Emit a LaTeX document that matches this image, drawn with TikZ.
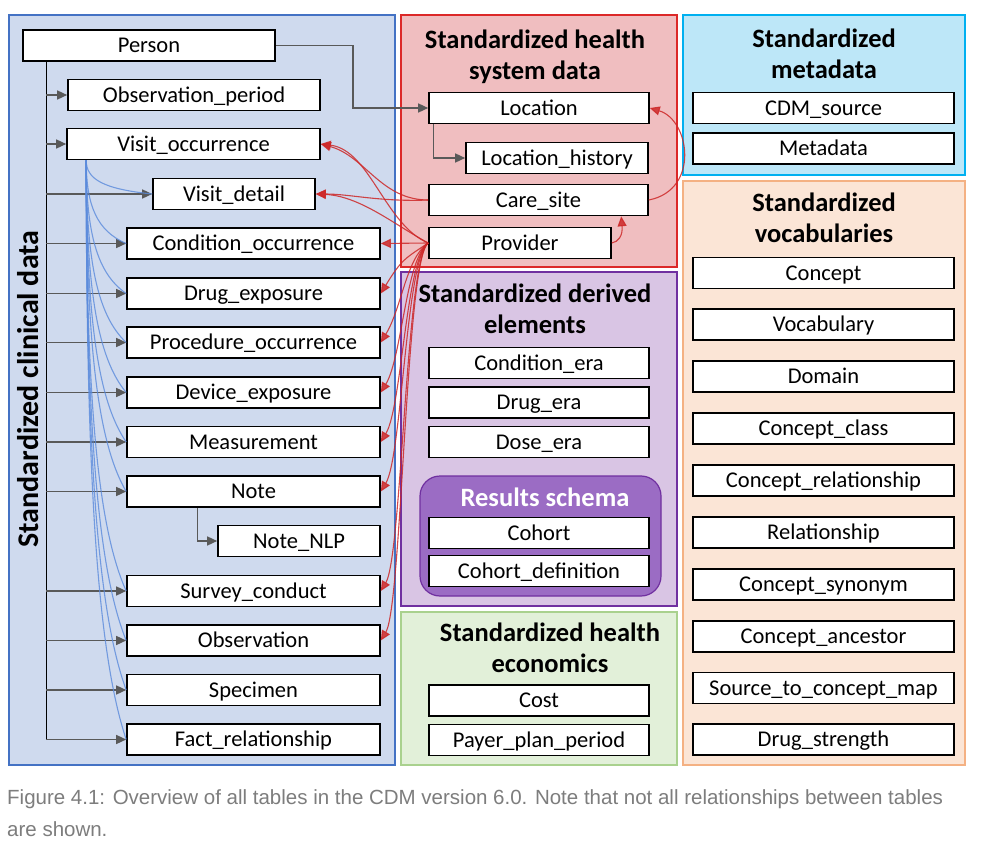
\documentclass[tikz,border=0pt]{standalone}
\usepackage{fontspec}
\setmainfont{Carlito}
\newfontfamily\capfont{Liberation Sans}
\usetikzlibrary{arrows.meta,calc}
\definecolor{bluefill}{RGB}{207,218,238}
\definecolor{blueline}{RGB}{68,114,196}
\definecolor{redfill}{RGB}{240,190,192}
\definecolor{redline}{RGB}{220,40,40}
\definecolor{purplefill}{RGB}{217,197,228}
\definecolor{purpleline}{RGB}{112,48,160}
\definecolor{resfill}{RGB}{155,108,196}
\definecolor{greenfill}{RGB}{226,240,217}
\definecolor{greenline}{RGB}{169,209,142}
\definecolor{cyanfill}{RGB}{189,231,248}
\definecolor{cyanline}{RGB}{0,176,240}
\definecolor{orangefill}{RGB}{251,229,214}
\definecolor{orangeline}{RGB}{244,177,131}
\definecolor{arrgray}{RGB}{89,89,89}
\definecolor{curveblue}{RGB}{91,139,220}
\definecolor{curvered}{RGB}{205,40,40}
\definecolor{capgray}{RGB}{125,125,125}
\begin{document}
\begin{tikzpicture}[x=1pt,y=1pt,
  tbl/.style={draw=black, line width=1.6pt, fill=white, inner sep=0pt, minimum height=31pt,
    text height=14.5pt, text depth=0pt, font=\fontsize{22.5}{24}\selectfont},
  ttl/.style={font=\bfseries\fontsize{26.5}{31}\selectfont, align=center, inner sep=0pt},
  panel/.style={line width=1.3pt},
  garr/.style={draw=arrgray, line width=1.4pt, -{Triangle[length=10pt,width=9pt]}},
  bluec/.style={draw=curveblue, line width=1.1pt, opacity=0.8},
  redc/.style={draw=curvered, line width=1.1pt, opacity=0.85, -{Triangle[length=10pt,width=9pt]}},
  capt/.style={anchor=base west, inner sep=0pt, text=capgray, font=\capfont\fontsize{20.5}{24}\selectfont}
]
\useasboundingbox (0,0) rectangle (983,-845);
\fill[white] (0,0) rectangle (983,-845);

% panels
\draw[panel, fill=bluefill, draw=blueline] (9,-15) rectangle (395,-765);
\draw[panel, fill=redfill, draw=redline] (401,-15) rectangle (677,-267);
\draw[panel, fill=purplefill, draw=purpleline] (401,-272) rectangle (677,-606);
\draw[panel, fill=greenfill, draw=greenline] (401,-612) rectangle (677,-765);
\draw[panel, fill=cyanfill, draw=cyanline] (683,-15) rectangle (965,-175);
\draw[panel, fill=orangefill, draw=orangeline] (683,-181) rectangle (965,-765);
\draw[line width=1.2pt, fill=resfill, draw=purpleline, rounded corners=20pt] (420,-476) rectangle (661,-596);

% titles
\node[rotate=90, font=\bfseries\fontsize{30}{31}\selectfont, inner sep=0pt] (tclin) at (28,-389) {Standardized clinical data};
\node[ttl] (thealth) at (535,-57) {Standardized health\\system data};
\node[ttl] (tderiv) at (535,-309) {Standardized derived\\elements};
\node[ttl] (tecon) at (550,-648) {Standardized health\\economics};
\node[ttl] (tmeta) at (824,-54) {Standardized\\metadata};
\node[ttl] (tvoc) at (824,-218) {Standardized\\vocabularies};
\node[ttl, text=white] (tres) at (545,-497) {Results schema};

% clinical tables
\node[tbl, minimum width=252pt] (person) at (149,-45.5) {Person};
\node[tbl, minimum width=252pt] (obsper) at (194,-95) {Observation\_period};
\node[tbl, minimum width=253pt] (vo) at (193.5,-144) {Visit\_occurrence};
\node[tbl, minimum width=162pt] (vd) at (234,-194) {Visit\_detail};
\node[tbl, minimum width=253pt] (cond) at (253.5,-243.5) {Condition\_occurrence};
\node[tbl, minimum width=253pt] (drug) at (253.5,-293.5) {Drug\_exposure};
\node[tbl, minimum width=253pt] (proc) at (253.5,-342.5) {Procedure\_occurrence};
\node[tbl, minimum width=253pt] (dev) at (253.5,-392.5) {Device\_exposure};
\node[tbl, minimum width=253pt] (meas) at (253.5,-442) {Measurement};
\node[tbl, minimum width=253pt] (note) at (253.5,-491.5) {Note};
\node[tbl, minimum width=162pt] (nlp) at (299,-541) {Note\_NLP};
\node[tbl, minimum width=253pt] (survey) at (253.5,-591) {Survey\_conduct};
\node[tbl, minimum width=253pt] (obs) at (253.5,-640.5) {Observation};
\node[tbl, minimum width=253pt] (spec) at (253.5,-690) {Specimen};
\node[tbl, minimum width=253pt] (fact) at (253.5,-739.5) {Fact\_relationship};

% health system
\node[tbl, minimum width=220pt] (loc) at (539,-108) {Location};
\node[tbl, minimum width=182pt] (lochist) at (557,-158) {Location\_history};
\node[tbl, minimum width=219pt] (care) at (538.5,-200) {Care\_site};
\node[tbl, minimum width=182pt] (prov) at (520,-243) {Provider};

% derived
\node[tbl, minimum width=220pt] (condera) at (539,-363) {Condition\_era};
\node[tbl, minimum width=220pt] (drugera) at (539,-402.5) {Drug\_era};
\node[tbl, minimum width=220pt] (doseera) at (539,-442) {Dose\_era};
\node[tbl, minimum width=220pt] (cohort) at (539,-533) {Cohort};
\node[tbl, minimum width=220pt] (cohortdef) at (539,-571) {Cohort\_definition};

% economics
\node[tbl, minimum width=220pt] (cost) at (539,-700.5) {Cost};
\node[tbl, minimum width=220pt] (payer) at (539,-740) {Payer\_plan\_period};

% metadata
\node[tbl, minimum width=261pt] (cdm) at (823.5,-108) {CDM\_source};
\node[tbl, minimum width=261pt] (meta) at (823.5,-148.5) {Metadata};

% vocabularies
\node[tbl, minimum width=261pt] (concept) at (823.5,-273) {Concept};
\node[tbl, minimum width=261pt] (vocab) at (823.5,-324.5) {Vocabulary};
\node[tbl, minimum width=261pt] (domain) at (823.5,-376.5) {Domain};
\node[tbl, minimum width=261pt] (cclass) at (823.5,-428.5) {Concept\_class};
\node[tbl, minimum width=261pt] (crel) at (823.5,-480.5) {Concept\_relationship};
\node[tbl, minimum width=261pt] (rel) at (823.5,-532.5) {Relationship};
\node[tbl, minimum width=261pt] (csyn) at (823.5,-584.5) {Concept\_synonym};
\node[tbl, minimum width=261pt] (canc) at (823.5,-636.5) {Concept\_ancestor};
\node[tbl, minimum width=261pt] (stcm) at (823.5,-688) {Source\_to\_concept\_map};
\node[tbl, minimum width=261pt] (dstr) at (823.5,-739.5) {Drug\_strength};

% person spine
\coordinate (spine) at ([xshift=24pt]person.south west);
\draw[line width=1.4pt, black] (spine) -- (spine |- fact.west);
\foreach \t in {obsper,vo,vd,cond,drug,proc,dev,meas,note,survey,obs,spec,fact}
  \draw[garr] (spine |- \t.west) -- (\t.west);
\draw[garr] ([xshift=-56pt]note.south) |- (nlp.west);
\draw[garr] (person.east) -- ++(77,0) |- (loc.west);
\draw[garr] ([xshift=5pt]loc.south west) |- (lochist.west);

% blue curves from visit_occurrence
\coordinate (vos) at ([xshift=20pt]vo.south west);
\foreach \t in {vd,cond,drug,proc,dev,meas,note,survey,obs,spec,fact}
  \draw[bluec] let \p1=(vos), \p2=(\t.west) in
    (vos) .. controls (\x1,{\y1+0.55*(\y2-\y1)}) and ({\x1+3+0.2*(\x2-\x1)},{\y2-0.15*(\y2-\y1)}) .. (\t.west);

% red curves
\draw[redc] (care.west) .. controls (381,-200) and (365,-156) .. (vo.east);
\draw[redc] (care.west) .. controls (380,-202) and (350,-194) .. (vd.east);
\draw[redc] (prov.west) .. controls (385,-225) and (370,-150) .. (vo.east);
\draw[redc] (prov.west) .. controls (395,-225) and (360,-196) .. (vd.east);
\draw[redc] (prov.west) -- (cond.east);
\foreach \t in {drug,proc,dev,meas,note,survey,obs}
  \draw[redc] let \p2=(\t.east) in
    (prov.west) .. controls (406,-258) and (402,{\y2+35}) .. (\t.east);
\draw[redc] (care.east) .. controls (700,-190) and (690,-120) .. (loc.east);
\coordinate (carein) at ([xshift=193pt]care.south west);
\draw[redc] (prov.east) .. controls (618,-242) and (623,-236) .. (carein);

% caption
\node[capt] (cap1) at (7,-804) {Figure 4.1: Overview of all tables in the CDM version 6.0. Note that not all relationships between tables};
\node[capt] (cap2) at (7,-836) {are shown.};
\end{tikzpicture}
\end{document}
